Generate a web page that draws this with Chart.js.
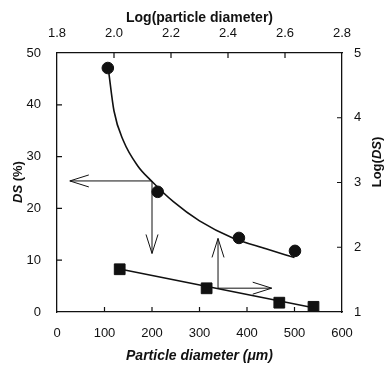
<!DOCTYPE html>
<html>
<head>
<meta charset="utf-8">
<script src="https://cdn.jsdelivr.net/npm/chart.js@4"></script>
<style>
    html, body { margin: 0; padding: 0; background: #fff; }
    #wrap { width: 385px; height: 369px; }
</style>
</head>
<body>
<div id="wrap"><canvas id="dsChart" width="385" height="369"></canvas></div>
<script>
// DS (%) vs particle diameter (bottom / left axes)
const diameter = [107, 212, 383, 501];
const dsPercent = [47.1, 23.2, 14.3, 11.8];
// fitted curve
const curveDiameter = [108, 120, 140, 170, 200, 245, 300, 370, 440, 500];
const curveDs = [47.0, 38.8, 33.0, 28.2, 25.2, 21.3, 17.6, 14.3, 12.2, 10.5];

// Log(DS) vs Log(particle diameter) (top / right axes)
const logDiameter = [2.02, 2.325, 2.58, 2.70];
const logDs = [1.66, 1.366, 1.144, 1.08];
const fitLogDiameter = [2.02, 2.70];
const fitLogDs = [1.665, 1.065];

// tick labels
const bottomTicks = [0, 100, 200, 300, 400, 500, 600];
const leftTicks = [0, 10, 20, 30, 40, 50];
const topTicks = ['1.8', '2.0', '2.2', '2.4', '2.6', '2.8'];
const rightTicks = [1, 2, 3, 4, 5];

// reading arrows, in bottom/left axis units
const arrowFrom = [[199, 25.3], [200, 25.3], [339, 4.6], [339, 4.6]];
const arrowTo = [[27, 25.3], [200, 11.3], [339, 14.2], [452, 4.6]];

const FONT = "'Liberation Sans', Arial, sans-serif";
const INK = '#111';

const toXY = (xs, ys) => xs.map((x, i) => ({ x, y: ys[i] }));

const inwardTicks = {
    id: 'inwardTicks',
    afterDatasetsDraw(chart) {
        const { ctx, chartArea: a, scales } = chart;
        const len = 5;
        ctx.save();
        ctx.strokeStyle = INK;
        ctx.lineWidth = 1.2;
        ctx.beginPath();
        bottomTicks.slice(1, -1).forEach(v => {
            const px = scales.x.getPixelForValue(v);
            ctx.moveTo(px, a.bottom); ctx.lineTo(px, a.bottom - len);
        });
        topTicks.slice(1, -1).forEach(v => {
            const px = scales.x2.getPixelForValue(parseFloat(v));
            ctx.moveTo(px, a.top); ctx.lineTo(px, a.top + len);
        });
        leftTicks.slice(1, -1).forEach(v => {
            const py = scales.y.getPixelForValue(v);
            ctx.moveTo(a.left, py); ctx.lineTo(a.left + len, py);
        });
        rightTicks.slice(1, -1).forEach(v => {
            const py = scales.y2.getPixelForValue(v);
            ctx.moveTo(a.right, py); ctx.lineTo(a.right - len, py);
        });
        ctx.stroke();

        // arrows
        ctx.lineWidth = 1;
        arrowFrom.forEach((f, i) => {
            const t = arrowTo[i];
            const x1 = scales.x.getPixelForValue(f[0]), y1 = scales.y.getPixelForValue(f[1]);
            const x2 = scales.x.getPixelForValue(t[0]), y2 = scales.y.getPixelForValue(t[1]);
            const ang = Math.atan2(y2 - y1, x2 - x1);
            const back = 19, spread = 6;
            const bx = x2 - back * Math.cos(ang), by = y2 - back * Math.sin(ang);
            const nx = -Math.sin(ang) * spread, ny = Math.cos(ang) * spread;
            ctx.beginPath();
            ctx.moveTo(x1, y1); ctx.lineTo(x2, y2);
            ctx.moveTo(bx + nx, by + ny); ctx.lineTo(x2, y2); ctx.lineTo(bx - nx, by - ny);
            ctx.stroke();
        });
        ctx.restore();
    }
};

function drawParts(ctx, parts, cx, cy, rot) {
    ctx.save();
    ctx.translate(cx, cy);
    ctx.rotate(rot);
    ctx.fillStyle = INK;
    ctx.textBaseline = 'middle';
    ctx.textAlign = 'left';
    let total = 0;
    parts.forEach(p => { ctx.font = p.font; total += ctx.measureText(p.text).width; });
    let x = -total / 2;
    parts.forEach(p => {
        ctx.font = p.font;
        ctx.fillText(p.text, x, 0);
        x += ctx.measureText(p.text).width;
    });
    ctx.restore();
}

const axisTitles = {
    id: 'axisTitles',
    afterDraw(chart) {
        const { ctx, chartArea: a } = chart;
        const mid = (a.left + a.right) / 2;
        const bold = `bold 14px ${FONT}`;
        const boldIt = `italic bold 14px ${FONT}`;
        drawParts(ctx, [{ text: 'Log(particle diameter)', font: bold }], mid, 18, 0);
        drawParts(ctx, [{ text: 'Particle diameter (μm)', font: boldIt }], mid, 356, 0);
        drawParts(ctx, [{ text: 'DS', font: `italic bold 13px ${FONT}` }, { text: ' (%)', font: `bold 13px ${FONT}` }], 18, 182, -Math.PI / 2);
        drawParts(ctx, [{ text: 'Log(', font: `bold 13px ${FONT}` }, { text: 'DS', font: `italic bold 13px ${FONT}` }, { text: ')', font: `bold 13px ${FONT}` }], 377, 162, -Math.PI / 2);
    }
};

const tickFont = { family: FONT, size: 13 };

new Chart(document.getElementById('dsChart'), {
    type: 'scatter',
    data: {
        datasets: [
            {
                label: 'DS fit',
                data: toXY(curveDiameter, curveDs),
                showLine: true,
                cubicInterpolationMode: 'monotone',
                borderColor: INK,
                borderWidth: 1.6,
                pointRadius: 0,
                xAxisID: 'x', yAxisID: 'y'
            },
            {
                label: 'DS (%)',
                data: toXY(diameter, dsPercent),
                pointStyle: 'circle',
                pointRadius: 5.8,
                backgroundColor: INK,
                borderColor: INK,
                xAxisID: 'x', yAxisID: 'y'
            },
            {
                label: 'Log(DS) fit',
                data: toXY(fitLogDiameter, fitLogDs),
                showLine: true,
                borderColor: INK,
                borderWidth: 1.4,
                pointRadius: 0,
                xAxisID: 'x2', yAxisID: 'y2'
            },
            {
                label: 'Log(DS)',
                data: toXY(logDiameter, logDs),
                pointStyle: 'rect',
                pointRadius: 7.6,
                backgroundColor: INK,
                borderColor: INK,
                xAxisID: 'x2', yAxisID: 'y2'
            }
        ]
    },
    options: {
        responsive: false,
        animation: false,
        layout: { padding: 0 },
        plugins: { legend: { display: false }, tooltip: { enabled: false } },
        scales: {
            x: {
                position: 'bottom', min: 0, max: 600,
                afterBuildTicks: s => { s.ticks = bottomTicks.map(v => ({ value: v })); },
                afterFit: s => { s.height = 57; },
                grid: { display: false },
                border: { display: true, color: INK, width: 1.3 },
                ticks: { font: tickFont, color: INK, padding: 6, maxRotation: 0 }
            },
            x2: {
                position: 'top', type: 'linear', min: 1.8, max: 2.8,
                afterBuildTicks: s => { s.ticks = topTicks.map(v => ({ value: parseFloat(v) })); },
                afterFit: s => { s.height = 53; },
                grid: { display: false },
                border: { display: true, color: INK, width: 1.3 },
                ticks: { font: tickFont, color: INK, padding: 4, maxRotation: 0, callback: (v, i) => topTicks[i] }
            },
            y: {
                position: 'left', min: 0, max: 50,
                afterBuildTicks: s => { s.ticks = leftTicks.map(v => ({ value: v })); },
                afterFit: s => { s.width = 57; },
                grid: { display: false },
                border: { display: true, color: INK, width: 1.3 },
                ticks: { font: tickFont, color: INK, padding: 8 }
            },
            y2: {
                position: 'right', type: 'linear', min: 1, max: 5,
                afterBuildTicks: s => { s.ticks = rightTicks.map(v => ({ value: v })); },
                afterFit: s => { s.width = 43; },
                grid: { display: false },
                border: { display: true, color: INK, width: 1.3 },
                ticks: { font: tickFont, color: INK, padding: 4 }
            }
        }
    },
    plugins: [inwardTicks, axisTitles]
});
</script>
</body>
</html>
